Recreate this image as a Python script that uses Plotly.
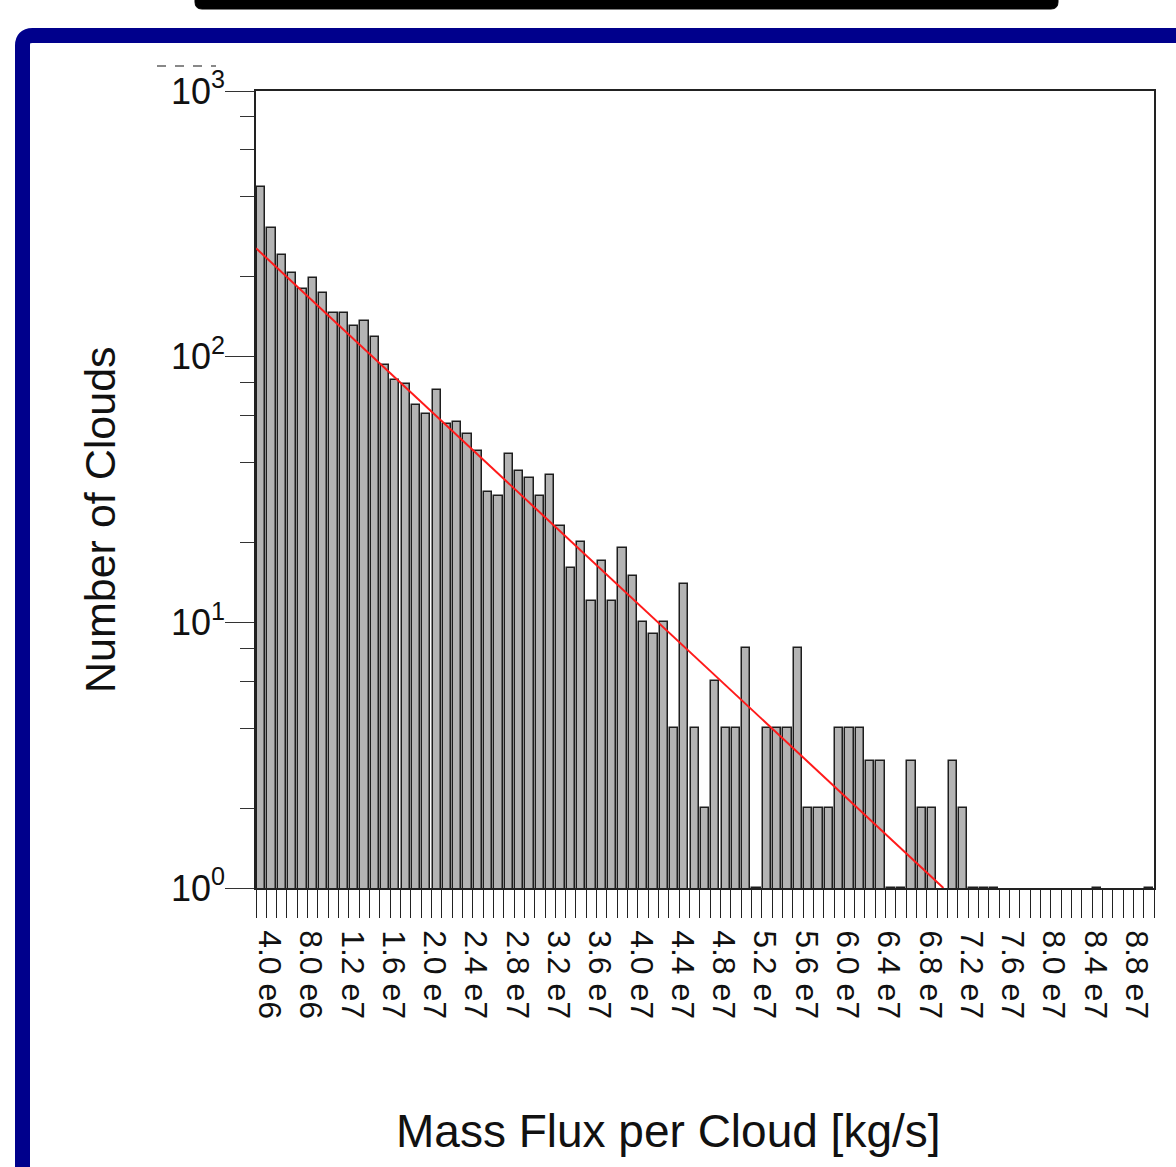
import plotly.graph_objects as go

# ---- data ----
bin_start_e6 = list(range(4, 91))          # 87 bins, 1e6 kg/s wide
counts = [437, 306, 241, 207, 180, 197, 173, 146, 146, 131,
          136, 119, 93, 82, 79, 66, 61, 75, 56, 57,
          51, 44, 31, 30, 43, 37, 35, 30, 36, 23,
          16, 20, 12, 17, 12, 19, 15, 10, 9, 10,
          4, 14, 4, 2, 6, 4, 4, 8, 1, 4,
          4, 4, 8, 2, 2, 2, 4, 4, 4, 3,
          3, 1, 1, 3, 2, 2, None, 3, 2, 1,
          1, 1, None, None, None, None, None, None, None, None,
          None, 1, None, None, None, None, 1]
fit_x = [4.0e6, 7.06e7]
fit_y = [256, 1]
xlabel_vals = [4e6 + 4e6 * j for j in range(22)]
xlabel_text = ["4.0 e6", "8.0 e6", "1.2 e7", "1.6 e7", "2.0 e7", "2.4 e7",
               "2.8 e7", "3.2 e7", "3.6 e7", "4.0 e7", "4.4 e7", "4.8 e7",
               "5.2 e7", "5.6 e7", "6.0 e7", "6.4 e7", "6.8 e7", "7.2 e7",
               "7.6 e7", "8.0 e7", "8.4 e7", "8.8 e7"]
ytick_vals = [1, 10, 100, 1000]
ytick_text = ["10<sup>0</sup>", "10<sup>1</sup>", "10<sup>2</sup>", "10<sup>3</sup>"]
yminor_vals = [2, 4, 6, 8, 20, 40, 60, 80, 200, 400, 600, 800]

BIN = 1e6
x_centers = [(b + 0.5) * BIN for b in bin_start_e6]
x_edges = [b * BIN for b in bin_start_e6] + [(bin_start_e6[-1] + 1) * BIN]
x_lo, x_hi = x_edges[0], x_edges[-1]

FONT = "Liberation Sans, Arial, sans-serif"
PAGE_W, PAGE_H = 1176, 1167
W, H = PAGE_W, PAGE_H
PL, PR, PT, PB = 256, 1154, 91, 888   # plot area in page pixels
L, T = PL, PT
R, B = PAGE_W - PR, PAGE_H - PB
pw, ph = PR - PL, PB - PT


def px(x):
    return (x - PL) / pw


def py(y):
    return (PB - y) / ph


fig = go.Figure()
fig.add_trace(go.Bar(
    x=x_centers, y=counts, width=0.8 * BIN,
    marker=dict(color="#b4b4b4", line=dict(color="#1e1e1e", width=1.5)),
    showlegend=False,
))
fig.add_trace(go.Scatter(
    x=fit_x, y=fit_y, mode="lines",
    line=dict(color="#ff1a1a", width=2), showlegend=False,
))

fig.update_xaxes(
    range=[x_lo, x_hi], showgrid=False, zeroline=False,
    showline=True, linecolor="#222222", linewidth=1.5, mirror=True,
    tickmode="array", tickvals=[v + 1.3 * BIN for v in xlabel_vals],
    ticktext=xlabel_text, ticks="", tickangle=90, ticklabelstandoff=34,
    tickfont=dict(family=FONT, size=32, color="#111111"),
    minor=dict(tickmode="array", tickvals=x_edges, ticks="outside",
               ticklen=28, tickwidth=1.2, tickcolor="#222222"),
)
fig.update_yaxes(
    type="log", range=[0, 3], showgrid=False, zeroline=False,
    showline=True, linecolor="#222222", linewidth=1.5, mirror=True,
    tickmode="array", tickvals=ytick_vals, ticktext=ytick_text,
    ticks="outside", ticklen=29, tickwidth=1.2, tickcolor="#333333",
    ticklabelstandoff=-7,
    tickfont=dict(family=FONT, size=36, color="#111111"),
    minor=dict(tickmode="array", tickvals=yminor_vals, ticks="outside",
               ticklen=14, tickwidth=1.2, tickcolor="#333333"),
)

# decorations: navy frame, black top bar, faint dashes
r = 10
fx, fy = 22.5, 35.5
frame_path = (f"M {px(fx)} {py(PAGE_H + 20)} L {px(fx)} {py(fy + r)} "
              f"Q {px(fx)} {py(fy)} {px(fx + r)} {py(fy)} L {px(PAGE_W + 20)} {py(fy)}")
bx0, bx1, by0, by1, br = 195, 1058, -5, 9, 7
bar_path = (f"M {px(bx0)} {py(by0)} L {px(bx0)} {py(by1 - br)} "
            f"Q {px(bx0)} {py(by1)} {px(bx0 + br)} {py(by1)} "
            f"L {px(bx1 - br)} {py(by1)} Q {px(bx1)} {py(by1)} {px(bx1)} {py(by1 - br)} "
            f"L {px(bx1)} {py(by0)} Z")
shapes = [
    dict(type="path", xref="paper", yref="paper", path=frame_path,
         line=dict(color="#00008c", width=15)),
    dict(type="path", xref="paper", yref="paper", path=bar_path,
         fillcolor="black", line=dict(color="black", width=1)),
    dict(type="line", xref="paper", yref="paper", x0=px(157), x1=px(216),
         y0=py(66), y1=py(66), line=dict(color="#888888", width=2, dash="dash")),
]

annotations = [
    dict(text="Number of Clouds", xref="paper", yref="paper",
         x=px(100), y=py(520), xanchor="center", yanchor="middle",
         textangle=-90, showarrow=False,
         font=dict(family=FONT, size=43, color="#111111")),
    dict(text="Mass Flux per Cloud [kg/s]", xref="paper", yref="paper",
         x=px(668), y=py(1131), xanchor="center", yanchor="middle",
         showarrow=False, font=dict(family=FONT, size=46, color="#111111")),
]

fig.update_layout(
    width=W, height=H, margin=dict(l=L, r=R, t=T, b=B, pad=0),
    plot_bgcolor="white", paper_bgcolor="white",
    shapes=shapes, annotations=annotations, bargap=0,
)
fig.write_html("out.html", config={"displayModeBar": False},
               post_script="document.body.style.margin='0';"
                           "document.body.style.overflow='hidden';")
